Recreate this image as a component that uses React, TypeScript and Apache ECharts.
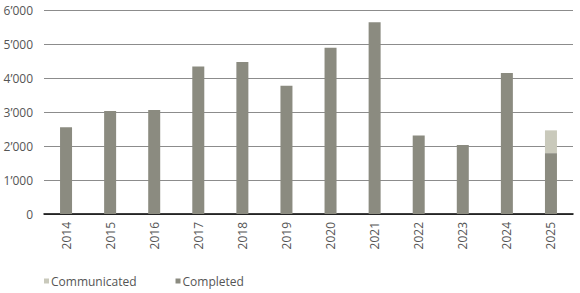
import React, { useEffect, useRef } from "react";
import * as echarts from "echarts";

const years = ["2014", "2015", "2016", "2017", "2018", "2019", "2020", "2021", "2022", "2023", "2024", "2025"];
const completed = [2550, 3030, 3060, 4340, 4470, 3770, 4890, 5640, 2310, 2030, 4150, 1790];
const communicated = [0, 0, 0, 0, 0, 0, 0, 0, 0, 0, 0, 670];
const yTicks = [0, 1000, 2000, 3000, 4000, 5000, 6000];

const fmt = (v: number) => {
  if (v === 0) return "0";
  const s = String(v);
  return s.slice(0, s.length - 3) + "\u2019" + s.slice(s.length - 3);
};

export default function App() {
  const ref = useRef<HTMLDivElement>(null);
  useEffect(() => {
    const chart = echarts.init(ref.current!, null, { renderer: "svg" });
    const font = "'Open Sans', 'Noto Sans', sans-serif";
    chart.setOption({
      animation: false,
      textStyle: { fontFamily: font },
      grid: { left: 44, right: 7, top: 10, bottom: 79 },
      legend: {
        data: ["Communicated", "Completed"],
        left: 39,
        top: 270,
        itemWidth: 5,
        itemHeight: 5,
        itemGap: 39,
        icon: "rect",
        textStyle: { fontSize: 12, color: "#555", fontFamily: font, padding: [0, 0, 0, -3] },
      },
      xAxis: {
        type: "category",
        data: years,
        axisLine: { lineStyle: { color: "#000", width: 1.5 } },
        axisTick: { show: false },
        axisLabel: { rotate: 90, fontSize: 12, color: "#555", margin: 8, fontFamily: font },
      },
      yAxis: {
        type: "value",
        min: yTicks[0],
        max: yTicks[yTicks.length - 1],
        interval: 1000,
        axisLine: { show: false },
        axisTick: { show: false },
        splitLine: { lineStyle: { color: "#8c8c8c", width: 1 } },
        axisLabel: { fontSize: 12, color: "#555", margin: 11, formatter: (v: number) => fmt(v), fontFamily: font },
      },
      series: [
        {
          name: "Completed",
          type: "bar",
          stack: "t",
          data: completed,
          barWidth: 12,
          itemStyle: { color: "#8b8b80" },
        },
        {
          name: "Communicated",
          type: "bar",
          stack: "t",
          data: communicated.map((v) => (v === 0 ? null : v)),
          barWidth: 12,
          itemStyle: { color: "#c9c9bb" },
        },
      ],
    });
    return () => chart.dispose();
  }, []);
  return <div ref={ref} style={{ width: 580, height: 293, position: "absolute", left: 0, top: 0 }} />;
}
